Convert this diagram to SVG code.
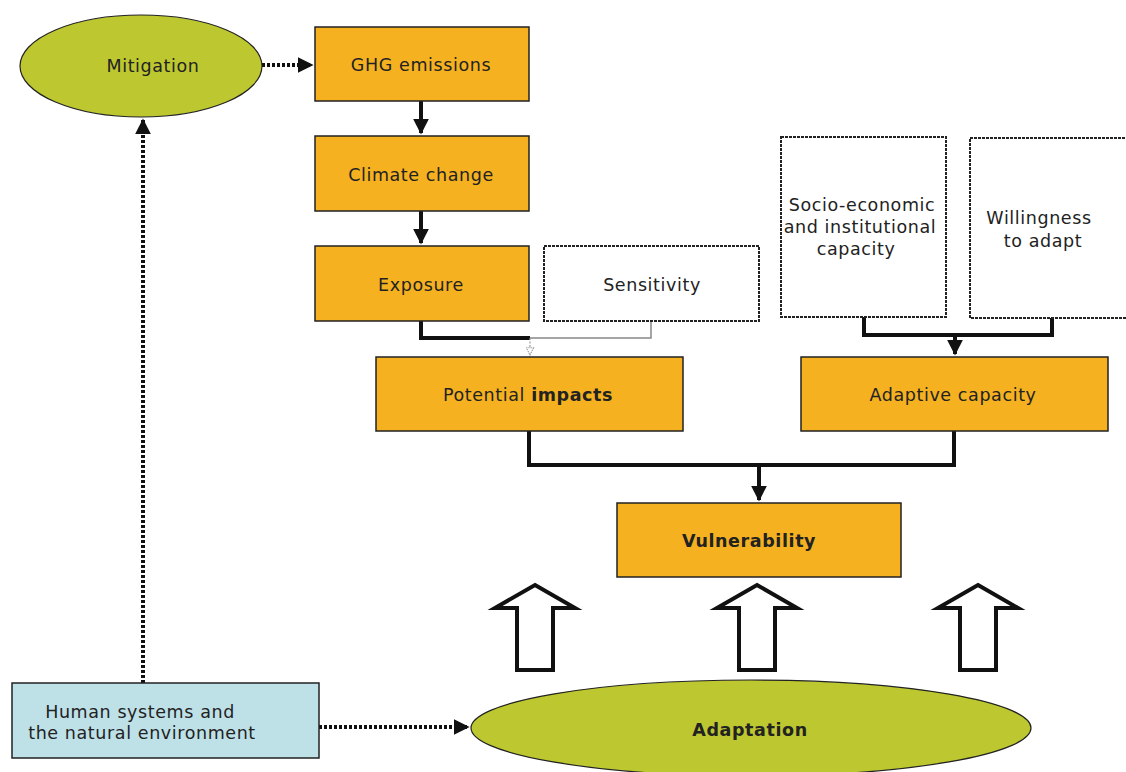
<svg xmlns="http://www.w3.org/2000/svg" width="1126" height="772" viewBox="0 0 1126 772">
<style>
text{font-family:"DejaVu Sans","Verdana",sans-serif;font-size:17.5px;letter-spacing:0.6px;fill:#222;text-anchor:middle;dominant-baseline:central}
.b{font-weight:bold}
.orange{fill:#F5B120;stroke:#222;stroke-width:1.5}
.white{fill:#fff;stroke:#222;stroke-width:2;stroke-dasharray:3 1}
.green{fill:#BDC72F;stroke:#222;stroke-width:1.2}
.blue{fill:#BEE1E8;stroke:#222;stroke-width:1.5}
.solid{fill:none;stroke:#111;stroke-width:4}
.dot{fill:none;stroke:#111;stroke-width:4;stroke-dasharray:3 2}
.big{fill:#fff;stroke:#111;stroke-width:4;stroke-linejoin:miter}
</style>
<defs>
<marker id="ah" viewBox="0 0 10 10" refX="9" refY="5" markerWidth="4" markerHeight="4" orient="auto" markerUnits="strokeWidth">
<path d="M0,0 L10,5 L0,10 z" fill="#111"/>
</marker>
<marker id="ahg" viewBox="0 0 10 10" refX="9" refY="5" markerWidth="9" markerHeight="9" orient="auto" markerUnits="userSpaceOnUse">
<path d="M1,1 L9,5 L1,9 z" fill="#fff" stroke="#999" stroke-width="1.2" stroke-dasharray="1.5 1"/>
</marker>
</defs>

<g id="connectors">
<path class="dot" d="M262,65 H312" marker-end="url(#ah)"/>
<path class="solid" d="M421,101 V133" marker-end="url(#ah)"/>
<path class="solid" d="M421,211 V243" marker-end="url(#ah)"/>
<path class="solid" d="M421,321 V338 H530"/>
<path d="M651,321 V338 H530" fill="none" stroke="#888" stroke-width="1.5"/>
<path d="M530,338 V355" fill="none" stroke="#999" stroke-width="1.2" stroke-dasharray="2 1.5" marker-end="url(#ahg)"/>
<path class="solid" d="M864,317 V335 H1052 V318"/>
<path class="solid" d="M955,335 V354" marker-end="url(#ah)"/>
<path class="solid" d="M529,431 V465 H954 V431"/>
<path class="solid" d="M759,465 V500" marker-end="url(#ah)"/>
<path class="dot" d="M143,683 V120" marker-end="url(#ah)"/>
<path class="dot" d="M319,727 H468" marker-end="url(#ah)"/>
<path class="big" d="M535,585 L575,608 L553,608 L553,670 L517,670 L517,608 L495,608 Z"/>
<path class="big" d="M757,585 L797,608 L775,608 L775,670 L739,670 L739,608 L717,608 Z"/>
<path class="big" d="M978,585 L1018,608 L996,608 L996,670 L960,670 L960,608 L938,608 Z"/>
</g>

<g id="mitigation">
<ellipse class="green" cx="141" cy="66" rx="121" ry="51"/>
<text x="153" y="66">Mitigation</text>
</g>
<g id="ghg">
<rect class="orange" x="315" y="27" width="214" height="74"/>
<text x="421" y="65">GHG emissions</text>
</g>
<g id="climate">
<rect class="orange" x="315" y="136" width="214" height="75"/>
<text x="421" y="175">Climate change</text>
</g>
<g id="exposure">
<rect class="orange" x="315" y="246" width="214" height="75"/>
<text x="421" y="285">Exposure</text>
</g>
<g id="sensitivity">
<rect class="white" x="544" y="246" width="215" height="75"/>
<text x="652" y="285">Sensitivity</text>
</g>
<g id="socio">
<rect class="white" x="781" y="137" width="165" height="180"/>
<text x="862" y="205">Socio-economic</text>
<text x="860" y="227">and institutional</text>
<text x="856" y="249">capacity</text>
</g>
<g id="willingness">
<rect class="white" x="970" y="138" width="160" height="180"/>
<text x="1039" y="218">Willingness</text>
<text x="1043" y="241">to adapt</text>
</g>
<g id="impacts">
<rect class="orange" x="376" y="357" width="307" height="74"/>
<text x="528" y="395">Potential <tspan class="b">impacts</tspan></text>
</g>
<g id="adaptive">
<rect class="orange" x="801" y="357" width="307" height="74"/>
<text x="953" y="395">Adaptive capacity</text>
</g>
<g id="vulnerability">
<rect class="orange" x="617" y="503" width="284" height="74"/>
<text class="b" x="749" y="541">Vulnerability</text>
</g>
<g id="human">
<rect class="blue" x="12" y="683" width="307" height="75"/>
<text x="140" y="712">Human systems and</text>
<text x="142" y="733">the natural environment</text>
</g>
<g id="adaptation">
<ellipse class="green" cx="751" cy="728" rx="280" ry="48"/>
<text class="b" x="750" y="730">Adaptation</text>
</g>
</svg>
